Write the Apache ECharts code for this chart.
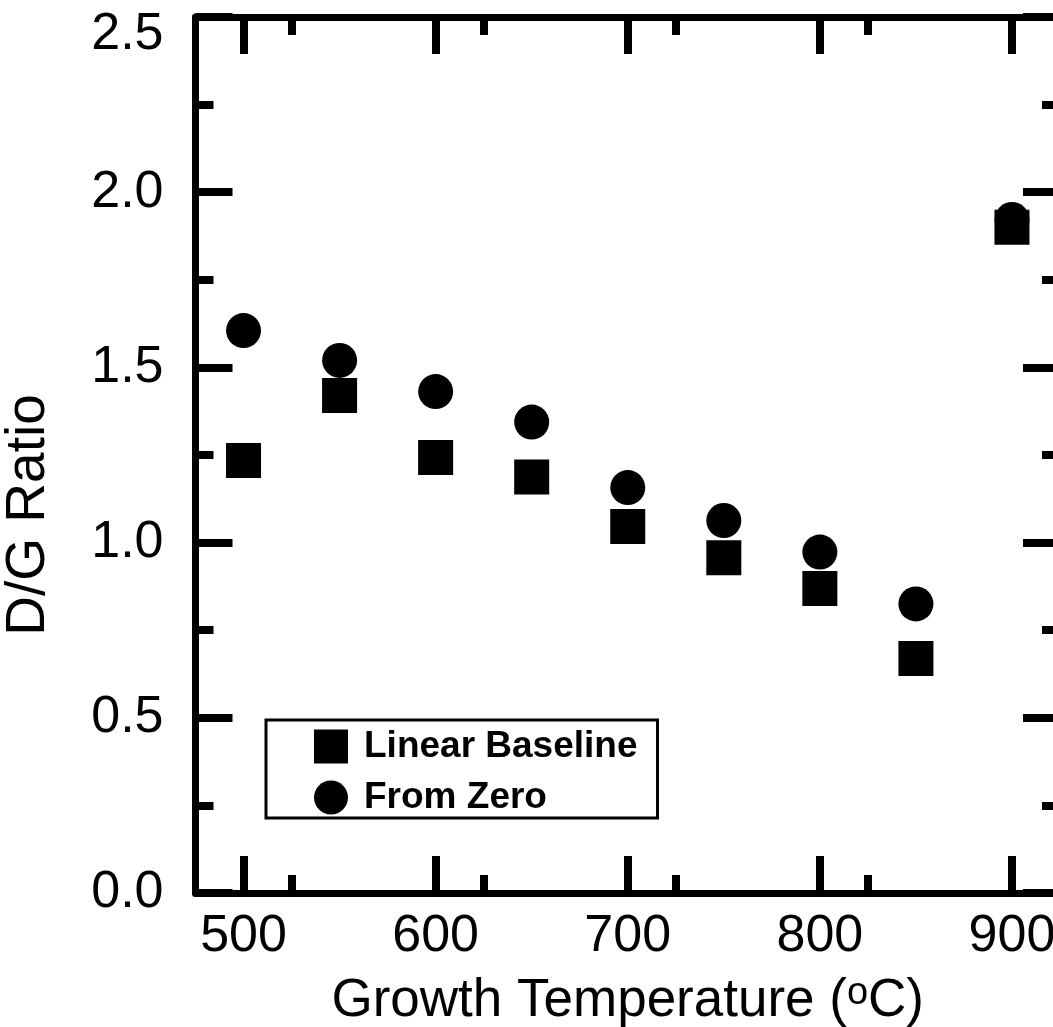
<!DOCTYPE html>
<html>
<head>
<meta charset="utf-8">
<script src="https://cdn.jsdelivr.net/npm/echarts@6/dist/echarts.min.js"></script>
<style>
html,body{margin:0;padding:0;background:#fff;}
#chart{width:1053px;height:1027px;}
</style>
</head>
<body>
<div id="chart"></div>
<script>
// Data
var temperatures = [500, 550, 600, 650, 700, 750, 800, 850, 900];
var linearBaseline = [1.234, 1.42, 1.243, 1.187, 1.046, 0.957, 0.869, 0.669, 1.90];
var fromZero = [1.605, 1.52, 1.431, 1.344, 1.157, 1.063, 0.973, 0.825, 1.922];
var seriesNames = ['Linear Baseline', 'From Zero'];
var xMajorTicks = [500, 600, 700, 800, 900];
var yTitle = 'D/G Ratio';

function pairs(xs, ys) { return xs.map(function (x, i) { return [x, ys[i]]; }); }

var FONT = 'Liberation Sans, Arial, sans-serif';
var axisLine = { show: true, onZero: false, lineStyle: { color: '#000', width: 7 } };
var majorTick = { show: true, inside: true, length: 37, lineStyle: { color: '#000', width: 8 } };
var minorTick = { show: true, splitNumber: 2, length: 18, lineStyle: { color: '#000', width: 8 } };

function xTick() { return Object.assign({}, majorTick, { customValues: xMajorTicks }); }

var chart = echarts.init(document.getElementById('chart'), null, { renderer: 'canvas' });
chart.setOption({
  backgroundColor: '#fff',
  animation: false,
  grid: { left: 195.5, top: 17, right: -7, bottom: 134, containLabel: false, outerBoundsMode: 'none' },
  xAxis: [
    {
      type: 'value', position: 'bottom', min: 475, max: 925, interval: 100,
      axisLine: axisLine, axisTick: xTick(), minorTick: minorTick, splitLine: { show: false },
      axisLabel: {
        show: true, fontSize: 52, color: '#000', fontFamily: FONT, margin: 18,
        customValues: xMajorTicks
      },
      name: '{a|Growth Temperature (}{sup|o}{a|C)}', nameLocation: 'middle', nameGap: 82,
      nameTextStyle: {
        color: '#000', fontFamily: FONT,
        rich: {
          a: { fontSize: 53, color: '#000', fontFamily: FONT },
          sup: { fontSize: 38, color: '#000', fontFamily: FONT, verticalAlign: 'top' }
        }
      }
    },
    {
      type: 'value', position: 'top', min: 475, max: 925, interval: 100,
      axisLine: axisLine, axisTick: xTick(), minorTick: minorTick, splitLine: { show: false },
      axisLabel: { show: false }
    }
  ],
  yAxis: [
    {
      type: 'value', position: 'left', min: 0, max: 2.5, interval: 0.5,
      axisLine: axisLine, axisTick: majorTick, minorTick: minorTick, splitLine: { show: false },
      axisLabel: {
        show: true, fontSize: 52, color: '#000', fontFamily: FONT, margin: 32,
        formatter: function (v) { return v === 2.5 ? '{top|' + v.toFixed(1) + '}' : v.toFixed(1); },
        rich: { top: { fontSize: 52, color: '#000', fontFamily: FONT, padding: [36, 0, 0, 0] } }
      },
      name: yTitle, nameLocation: 'middle', nameGap: 139, nameRotate: 90,
      nameTextStyle: { fontSize: 55, color: '#000', fontFamily: FONT, padding: [0, 120, 0, 0] }
    },
    {
      type: 'value', position: 'right', min: 0, max: 2.5, interval: 0.5,
      axisLine: axisLine, axisTick: majorTick, minorTick: minorTick, splitLine: { show: false },
      axisLabel: { show: false }
    }
  ],
  legend: {
    show: true, orient: 'vertical', left: 266, top: 720,
    itemWidth: 34, itemHeight: 34, itemGap: 14,
    padding: [8, 20, 2, 48],
    borderColor: '#000', borderWidth: 3, backgroundColor: '#fff',
    textStyle: { fontSize: 37, fontWeight: 'bold', color: '#000', fontFamily: FONT, lineHeight: 34, padding: [0, 0, 0, 11] },
    data: [
      { name: seriesNames[0], icon: 'rect' },
      { name: seriesNames[1], icon: 'circle' }
    ]
  },
  series: [
    {
      name: seriesNames[0], type: 'scatter', symbol: 'rect', symbolSize: 35,
      itemStyle: { color: '#000', opacity: 1 }, data: pairs(temperatures, linearBaseline), z: 3
    },
    {
      name: seriesNames[1], type: 'scatter', symbol: 'circle', symbolSize: 35,
      itemStyle: { color: '#000', opacity: 1 }, data: pairs(temperatures, fromZero), z: 4
    }
  ]
});
</script>
</body>
</html>
